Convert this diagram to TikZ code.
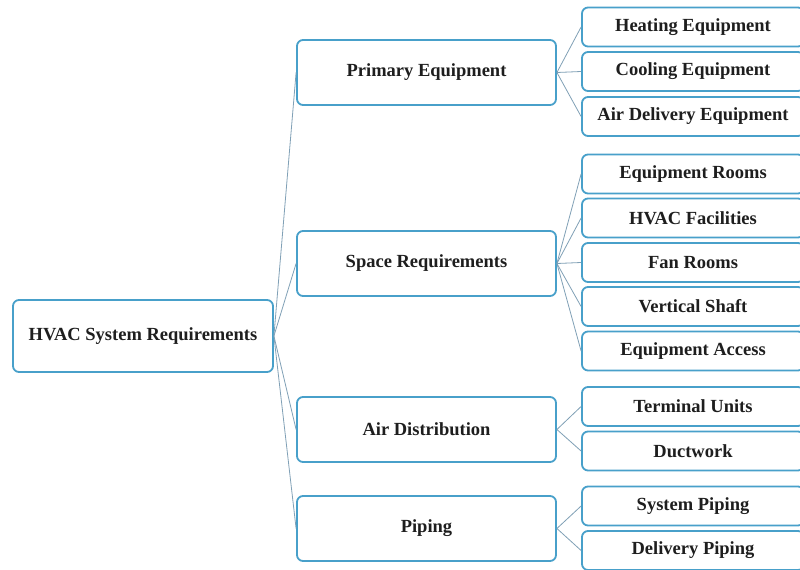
\documentclass[tikz,border=0pt]{standalone}
\usepackage{fontspec}
\setmainfont{Liberation Serif}
\definecolor{boxc}{RGB}{72,160,202}
\definecolor{linec}{RGB}{128,160,182}
\definecolor{txtc}{RGB}{30,30,30}
\begin{document}
\begin{tikzpicture}[x=1bp,y=-1bp,
  box/.style={draw=boxc, line width=1.8bp, rounded corners=6bp, fill=white,
    font=\fontsize{18.5bp}{22bp}\selectfont\bfseries, text=txtc, inner sep=0pt},
  rootbox/.style={box, minimum width=260bp, minimum height=72bp},
  midbox/.style={box, minimum width=259bp, minimum height=65bp},
  leafbox/.style={box, minimum width=222bp, minimum height=39bp},
  link/.style={draw=linec, line width=0.8bp}]
\useasboundingbox (0,0) rectangle (800,570);
\clip (0,0) rectangle (800,570);
\fill[white] (0,0) rectangle (800,570);
% root
\node[rootbox] (root) at (143,336) {HVAC System Requirements};
% middle level
\node[midbox] (prim) at (426.5,72.5) {Primary Equipment};
\node[midbox] (space) at (426.5,263.5) {Space Requirements};
\node[midbox] (air) at (426.5,429.5) {Air Distribution};
\node[midbox] (pipe) at (426.5,528.5) {Piping};
% leaves
\node[leafbox] (heat) at (693,27) {Heating Equipment};
\node[leafbox] (cool) at (693,71.5) {Cooling Equipment};
\node[leafbox] (adel) at (693,116.5) {Air Delivery Equipment};
\node[leafbox] (eqr) at (693,174) {Equipment Rooms};
\node[leafbox] (fac) at (693,218) {HVAC Facilities};
\node[leafbox] (fan) at (693,262.5) {Fan Rooms};
\node[leafbox] (vert) at (693,306.5) {Vertical Shaft};
\node[leafbox] (acc) at (693,351) {Equipment Access};
\node[leafbox] (term) at (693,406.5) {Terminal Units};
\node[leafbox] (duct) at (693,451) {Ductwork};
\node[leafbox] (sysp) at (693,506) {System Piping};
\node[leafbox] (delp) at (693,550.5) {Delivery Piping};
% connectors
\foreach \c in {prim,space,air,pipe} \draw[link] (root.east) -- (\c.west);
\foreach \c in {heat,cool,adel} \draw[link] (prim.east) -- (\c.west);
\foreach \c in {eqr,fac,fan,vert,acc} \draw[link] (space.east) -- (\c.west);
\foreach \c in {term,duct} \draw[link] (air.east) -- (\c.west);
\foreach \c in {sysp,delp} \draw[link] (pipe.east) -- (\c.west);
\end{tikzpicture}
\end{document}
